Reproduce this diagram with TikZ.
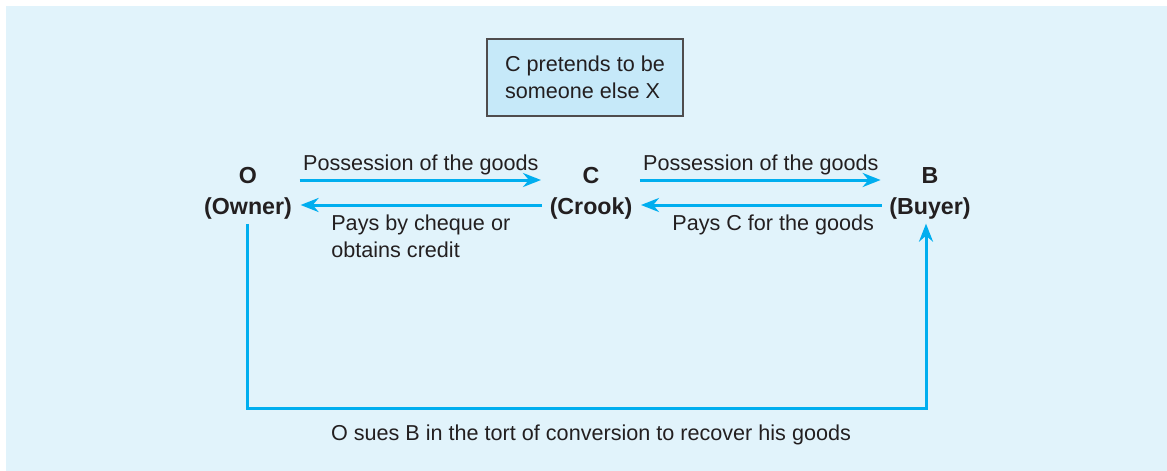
\documentclass[tikz,border=0pt]{standalone}
\usepackage{fontspec}
\setmainfont{Liberation Sans}
\usetikzlibrary{arrows.meta}

\definecolor{panelblue}{RGB}{225,243,251}
\definecolor{boxblue}{RGB}{198,233,249}
\definecolor{flowcyan}{RGB}{0,174,239}
\definecolor{inkgrey}{RGB}{35,31,32}

\tikzset{
  every picture/.style={line width=0.75pt},
  party/.style={align=center, inner sep=2pt, font=\fontsize{11.6}{15.5}\selectfont\bfseries, text=inkgrey},
  note/.style={font=\fontsize{10.8}{13.5}\selectfont, text=inkgrey},
  flow/.style={draw=flowcyan, line width=1.5pt, -{Stealth[length=9pt,width=7pt]}},
  trade/.style={flow, shorten <=1.5pt, shorten >=2pt},
}

\begin{document}
\begin{tikzpicture}[x=0.5pt,y=0.5pt,yscale=-1]
  \useasboundingbox (0,0) rectangle (1167,471);
  %background panel
  \fill[panelblue] (6,6) rectangle (1167,471);

  %Shape: Rectangle (the note box)
  \node[note, draw=inkgrey!80, line width=0.6pt, fill=boxblue, align=left, minimum width=98pt, minimum height=38.5pt] (pretend) at (585,77.5) {C pretends to be\\someone else X};

  % the three parties
  \node[party] (owner) at (248,193) {O\\(Owner)};
  \node[party] (crook) at (591,193) {C\\(Crook)};
  \node[party] (buyer) at (930,193) {B\\(Buyer)};

  % flows between O and C
  \draw[trade] ([yshift=-6.5pt]owner.east) -- node[note, above=-1.5pt] {Possession of the goods} ([yshift=-6.5pt]crook.west);
  \draw[trade] ([yshift=6pt]crook.west) -- node[note, below=1pt, align=left] {Pays by cheque or\\obtains credit} ([yshift=6pt]owner.east);

  % flows between C and B
  \draw[trade] ([yshift=-6.5pt]crook.east) -- node[note, above=-1.5pt] {Possession of the goods} ([yshift=-6.5pt]buyer.west);
  \draw[trade] ([yshift=6pt]buyer.west) -- node[note, below=1pt, pos=0.45] {Pays C for the goods} ([yshift=6pt]crook.east);

  % O sues B
  \coordinate (sue) at (591,408);
  \draw[flow] ([xshift=-0.5pt]owner.south) |- (sue) -| ([xshift=-2pt]buyer.south);
  \node[note] (sues) at (591,435) {O sues B in the tort of conversion to recover his goods};
\end{tikzpicture}
\end{document}
